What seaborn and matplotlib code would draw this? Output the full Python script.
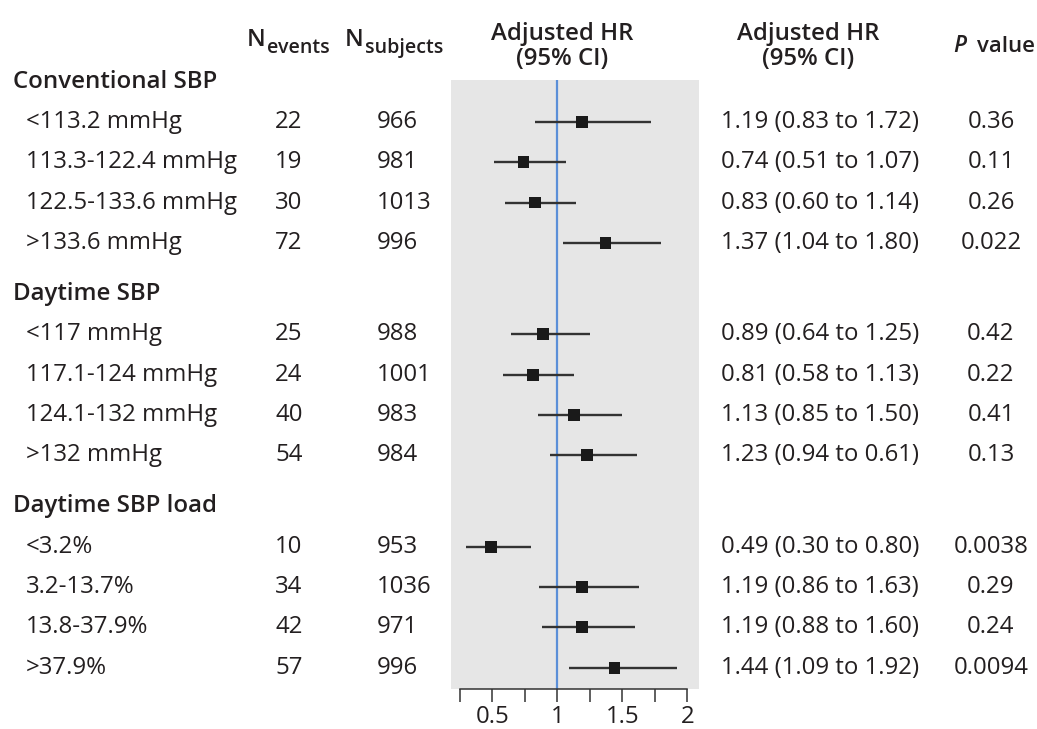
import numpy as np
import pandas as pd
import seaborn as sns
import matplotlib.pyplot as plt
from matplotlib.transforms import blended_transform_factory

# %% Data

groups = ['Conventional SBP', 'Daytime SBP', 'Daytime SBP load']
labels = ['<113.2 mmHg', '113.3-122.4 mmHg', '122.5-133.6 mmHg', '>133.6 mmHg',
          '<117 mmHg', '117.1-124 mmHg', '124.1-132 mmHg', '>132 mmHg',
          '<3.2%', '3.2-13.7%', '13.8-37.9%', '>37.9%']
n_events = [22, 19, 30, 72, 25, 24, 40, 54, 10, 34, 42, 57]
n_subjects = [966, 981, 1013, 996, 988, 1001, 983, 984, 953, 1036, 971, 996]
hr = [1.19, 0.74, 0.83, 1.37, 0.89, 0.81, 1.13, 1.23, 0.49, 1.19, 1.19, 1.44]
hr_lo = [0.83, 0.51, 0.60, 1.04, 0.64, 0.58, 0.85, 0.94, 0.30, 0.86, 0.88, 1.09]
hr_hi = [1.72, 1.07, 1.14, 1.80, 1.25, 1.13, 1.50, 1.61, 0.80, 1.63, 1.60, 1.92]
# printed text as in the source (incl. its typo on the >132 row)
hr_text = ['1.19 (0.83 to 1.72)', '0.74 (0.51 to 1.07)', '0.83 (0.60 to 1.14)', '1.37 (1.04 to 1.80)',
           '0.89 (0.64 to 1.25)', '0.81 (0.58 to 1.13)', '1.13 (0.85 to 1.50)', '1.23 (0.94 to 0.61)',
           '0.49 (0.30 to 0.80)', '1.19 (0.86 to 1.63)', '1.19 (0.88 to 1.60)', '1.44 (1.09 to 1.92)']
p_text = ['0.36', '0.11', '0.26', '0.022', '0.42', '0.22', '0.41', '0.13',
          '0.0038', '0.29', '0.24', '0.0094']

# %% Layout

W, H = 1037, 729
group_step = 5.27
header_y = [g * group_step for g in range(len(groups))]
row_y = [header_y[i // 4] + 1 + (i % 4) for i in range(len(labels))]

df = pd.DataFrame({'label': labels, 'hr': hr, 'lo': hr_lo, 'hi': hr_hi, 'y': row_y})

# %% Plot

sns.set_theme(style='white')
plt.rcParams['font.family'] = ['Open Sans', 'DejaVu Sans']
txt_col = '#231f20'
fs = 17.3

fig = plt.figure(figsize=(W / 100, H / 100), dpi=100)
ax = fig.add_axes([451 / W, 40 / H, 248 / W, 609 / H])
ax.set_facecolor('#e6e6e6')

ax.axvline(1, color='#5b8fd8', lw=1.6, zorder=1)
ax.hlines(df['y'], df['lo'], df['hi'], color='#333333', lw=1.7, zorder=2)
sns.scatterplot(data=df, x='hr', y='y', marker='s', s=72, color='#1a1a1a',
                edgecolor='none', zorder=3, ax=ax, legend=False)

ax.set_xlim(0.182, 2.09)
ax.set_ylim(15.07, -0.04)
ax.set_xticks(np.arange(0.25, 2.01, 0.25))
ax.set_xticklabels(['', '0.5', '', '1', '', '1.5', '', '2'], fontsize=fs, color=txt_col)
ax.set_yticks([])
ax.set_xlabel('')
ax.set_ylabel('')
for s in ['top', 'left', 'right']:
    ax.spines[s].set_visible(False)
ax.spines['bottom'].set_bounds(0.25, 2)
ax.spines['bottom'].set_color('#333333')
ax.spines['bottom'].set_linewidth(1.1)
ax.tick_params(axis='x', bottom=True, length=9, width=1.1, color='#333333', pad=2.5)

# %% Table text

tr = blended_transform_factory(fig.transFigure, ax.transData)
for g, y in zip(groups, header_y):
    fig.text(13 / W, y, g, transform=tr, ha='left', va='center', fontsize=fs,
             fontweight='semibold', color=txt_col)
for i, y in enumerate(row_y):
    fig.text(26 / W, y, labels[i], transform=tr, ha='left', va='center', fontsize=fs, color=txt_col)
    fig.text(275 / W, y, str(n_events[i]), transform=tr, ha='left', va='center', fontsize=fs, color=txt_col)
    fig.text(377 / W, y, str(n_subjects[i]), transform=tr, ha='left', va='center', fontsize=fs, color=txt_col)
    fig.text(721 / W, y, hr_text[i], transform=tr, ha='left', va='center', fontsize=fs, color=txt_col)
    fig.text(991 / W, y, p_text[i], transform=tr, ha='center', va='center', fontsize=fs, color=txt_col)

# %% Column headers

def fy(px):
    return 1 - px / H

fig.text(247 / W, fy(46), 'N', ha='left', va='baseline', fontsize=fs, fontweight='semibold', color=txt_col)
fig.text(267 / W, fy(53), 'events', ha='left', va='baseline', fontsize=fs * 0.82, fontweight='semibold', color=txt_col)
fig.text(345 / W, fy(46), 'N', ha='left', va='baseline', fontsize=fs, fontweight='semibold', color=txt_col)
fig.text(365 / W, fy(53), 'subjects', ha='left', va='baseline', fontsize=fs * 0.82, fontweight='semibold', color=txt_col)

for xc in [562, 808]:
    fig.text(xc / W, fy(34), 'Adjusted HR', ha='center', va='center', fontsize=fs,
             fontweight='semibold', color=txt_col)
    fig.text(xc / W, fy(59), '(95% CI)', ha='center', va='center', fontsize=fs,
             fontweight='semibold', color=txt_col)

fig.text(953 / W, fy(46), 'P', ha='left', va='center', fontsize=fs * 0.95, fontweight='semibold',
         style='italic', color=txt_col)
fig.text(1035 / W, fy(46), 'value', ha='right', va='center', fontsize=fs * 0.92, fontweight='semibold',
         color=txt_col)

fig.savefig('out.png', dpi=100)
